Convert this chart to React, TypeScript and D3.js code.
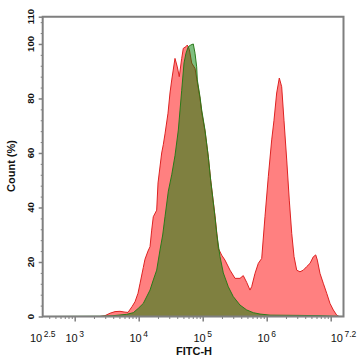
import React, { useRef, useEffect } from 'react';
import * as d3 from 'd3';

// log10(FITC-H) positions and count (%) for each histogram
const redLog = [2.5, 3.395, 3.473, 3.552, 3.63, 3.708, 3.786, 3.833, 3.895, 3.942, 3.989, 4.02, 4.072, 4.098, 4.145, 4.177, 4.203, 4.228, 4.281, 4.302, 4.359, 4.384, 4.411, 4.458, 4.489, 4.516, 4.567, 4.603, 4.634, 4.672, 4.697, 4.739, 4.759, 4.791, 4.828, 4.88, 4.916, 4.958, 4.984, 5.036, 5.088, 5.125, 5.192, 5.219, 5.244, 5.297, 5.348, 5.427, 5.505, 5.583, 5.634, 5.688, 5.739, 5.766, 5.817, 5.869, 5.922, 5.973, 6.025, 6.078, 6.114, 6.156, 6.197, 6.234, 6.27, 6.313, 6.353, 6.391, 6.427, 6.469, 6.52, 6.572, 6.625, 6.677, 6.728, 6.766, 6.791, 6.833, 6.884, 6.938, 6.989, 7.041, 7.094, 7.13, 7.2];
const redCount = [0, 0, 0.3, 1.2, 1.8, 1.9, 1.6, 1.5, 3.6, 5.4, 8.5, 12, 18, 21, 24, 25.6, 31.7, 36.6, 39, 49, 60, 63, 67, 74.6, 82, 86.8, 94.7, 91.6, 88, 94.7, 98.4, 99, 99.6, 98, 93, 91, 86, 80, 75, 68, 58.5, 50, 37, 31, 25, 22.5, 20.7, 17, 14, 14, 15, 12.5, 9.7, 11, 15.8, 19.5, 21.3, 36.6, 51.3, 64.8, 72, 82, 87.5, 84.3, 72, 57.4, 42.7, 30.5, 22, 17, 16.4, 17, 18.3, 19.5, 21.9, 22.6, 20.7, 15.8, 12.2, 8.5, 4.8, 2.4, 0.5, 0, 0];

const greenLog = [2.5, 3.395, 3.598, 3.813, 3.916, 3.994, 4.072, 4.177, 4.228, 4.281, 4.333, 4.375, 4.411, 4.463, 4.516, 4.567, 4.619, 4.672, 4.708, 4.739, 4.775, 4.813, 4.853, 4.88, 4.906, 4.916, 4.958, 4.984, 5.036, 5.088, 5.125, 5.192, 5.219, 5.27, 5.322, 5.4, 5.478, 5.583, 5.688, 5.791, 5.895, 6.052, 6.52, 6.833, 7.067, 7.2];
const greenCount = [0, 0.1, 0.3, 0.8, 1.4, 3, 4.8, 9.7, 13.4, 17, 24.4, 29.9, 36.6, 46, 52, 59, 68.4, 83, 93, 96.6, 99, 99.6, 100, 96.6, 91.6, 86.8, 80.6, 75.8, 68.4, 58.6, 50, 36.6, 30.5, 22, 16, 10.9, 7.3, 4.2, 2.4, 1.4, 0.9, 0.5, 0.4, 0.3, 0.1, 0];

const yTicks = [0, 20, 40, 60, 80, 100, 110];
const xTickLabels = [
  { exp: 2.5, text: '2.5' },
  { exp: 3, text: '3' },
  { exp: 4, text: '4' },
  { exp: 5, text: '5' },
  { exp: 6, text: '6' },
  { exp: 7.2, text: '7.2' },
];

const App = () => {
  const svgRef = useRef<SVGSVGElement>(null);

  useEffect(() => {
    const svg = d3.select(svgRef.current);
    svg.selectAll('*').remove();

    const left = 42.7, right = 343.5, top = 16.7, bottom = 316.5;
    const axisColor = '#7f7f7f';
    const font = 'Liberation Sans, Arial, sans-serif';

    const x = d3.scaleLinear().domain([2.5, 7.2]).range([left, right]);
    const y = d3.scaleLinear().domain([0, 110]).range([bottom, top]);

    svg.append('clipPath').attr('id', 'plotclip')
      .append('rect')
      .attr('x', left).attr('y', top - 2)
      .attr('width', right - left).attr('height', bottom - top + 2);

    const area = d3.area<[number, number]>()
      .x(d => x(d[0]))
      .y0(y(0))
      .y1(d => y(d[1]));
    const line = d3.line<[number, number]>()
      .x(d => x(d[0]))
      .y(d => y(d[1]));

    const red = redLog.map((v, i) => [v, redCount[i]] as [number, number]);
    const green = greenLog.map((v, i) => [v, greenCount[i]] as [number, number]);

    const plot = svg.append('g').attr('clip-path', 'url(#plotclip)');
    plot.append('path').datum(red).attr('d', area).attr('fill', '#ff8080');
    plot.append('path').datum(red).attr('d', line).attr('fill', 'none')
      .attr('stroke', '#dd2222').attr('stroke-width', 1);
    plot.append('path').datum(green).attr('d', area).attr('fill', 'rgba(0,128,0,0.5)');
    plot.append('path').datum(green).attr('d', line).attr('fill', 'none')
      .attr('stroke', '#2a7a1a').attr('stroke-width', 1);

    // y axis
    const yMinor = d3.range(0, 111, 4).filter(v => v % 20 !== 0);
    const yAxis = svg.append('g').attr('transform', `translate(${left},0)`)
      .call(d3.axisLeft(y).tickValues(yTicks).tickSize(4).tickFormat(() => ''));
    yAxis.select('.domain').remove();
    yAxis.selectAll('line').attr('stroke', axisColor).attr('stroke-width', 1.5);
    const yMinorG = svg.append('g').attr('transform', `translate(${left},0)`)
      .call(d3.axisLeft(y).tickValues(yMinor).tickSize(2).tickFormat(() => ''));
    yMinorG.select('.domain').remove();
    yMinorG.selectAll('line').attr('stroke', axisColor).attr('stroke-width', 1);

    svg.append('g').selectAll('text').data(yTicks).enter().append('text')
      .attr('transform', d => `translate(33.5,${y(d)}) rotate(-90)`)
      .attr('text-anchor', 'middle')
      .attr('font-family', font)
      .attr('font-weight', 'bold')
      .attr('font-size', 9.5)
      .attr('fill', '#111')
      .text(d => d);

    // x axis
    const xMajor = [3, 4, 5, 6, 7];
    const xMinor: number[] = [];
    for (let e = 2; e <= 7; e++) {
      for (let m = 2; m <= 9; m++) {
        const v = e + Math.log10(m);
        if (v > 2.5 && v < 7.2) xMinor.push(v);
      }
    }
    const xAxis = svg.append('g').attr('transform', `translate(0,${bottom})`)
      .call(d3.axisBottom(x).tickValues(xMajor).tickSize(5).tickFormat(() => ''));
    xAxis.select('.domain').remove();
    xAxis.selectAll('line').attr('stroke', axisColor).attr('stroke-width', 1.5);
    const xMinorG = svg.append('g').attr('transform', `translate(0,${bottom})`)
      .call(d3.axisBottom(x).tickValues(xMinor).tickSize(2.5).tickFormat(() => ''));
    xMinorG.select('.domain').remove();
    xMinorG.selectAll('line').attr('stroke', axisColor).attr('stroke-width', 1);

    const xl = svg.append('g').selectAll('text').data(xTickLabels).enter().append('text')
      .attr('x', d => x(d.exp))
      .attr('y', 342)
      .attr('text-anchor', 'middle')
      .attr('font-family', font)
      .attr('font-size', 11)
      .attr('fill', '#111');
    xl.append('tspan').text('10');
    xl.append('tspan').attr('dx', 1.5).attr('dy', -5).attr('font-size', 8.5).text(d => d.text);

    // frame
    svg.append('path')
      .attr('d', `M${left},${top}V${bottom}H${right}V${top}Z`)
      .attr('fill', 'none').attr('stroke', axisColor).attr('stroke-width', 2);

    // titles
    svg.append('text')
      .attr('transform', `translate(15,166) rotate(-90)`)
      .attr('text-anchor', 'middle')
      .attr('font-family', font)
      .attr('font-weight', 'bold')
      .attr('font-size', 11)
      .attr('fill', '#111')
      .text('Count (%)');
    svg.append('text')
      .attr('x', 194).attr('y', 355)
      .attr('text-anchor', 'middle')
      .attr('font-family', font)
      .attr('font-weight', 'bold')
      .attr('font-size', 11)
      .attr('fill', '#111')
      .text('FITC-H');
  }, []);

  return (
    <svg ref={svgRef} width="358" height="360"
      style={{ position: 'absolute', left: 0, top: 0, background: '#fff' }} />
  );
};

export default App;
